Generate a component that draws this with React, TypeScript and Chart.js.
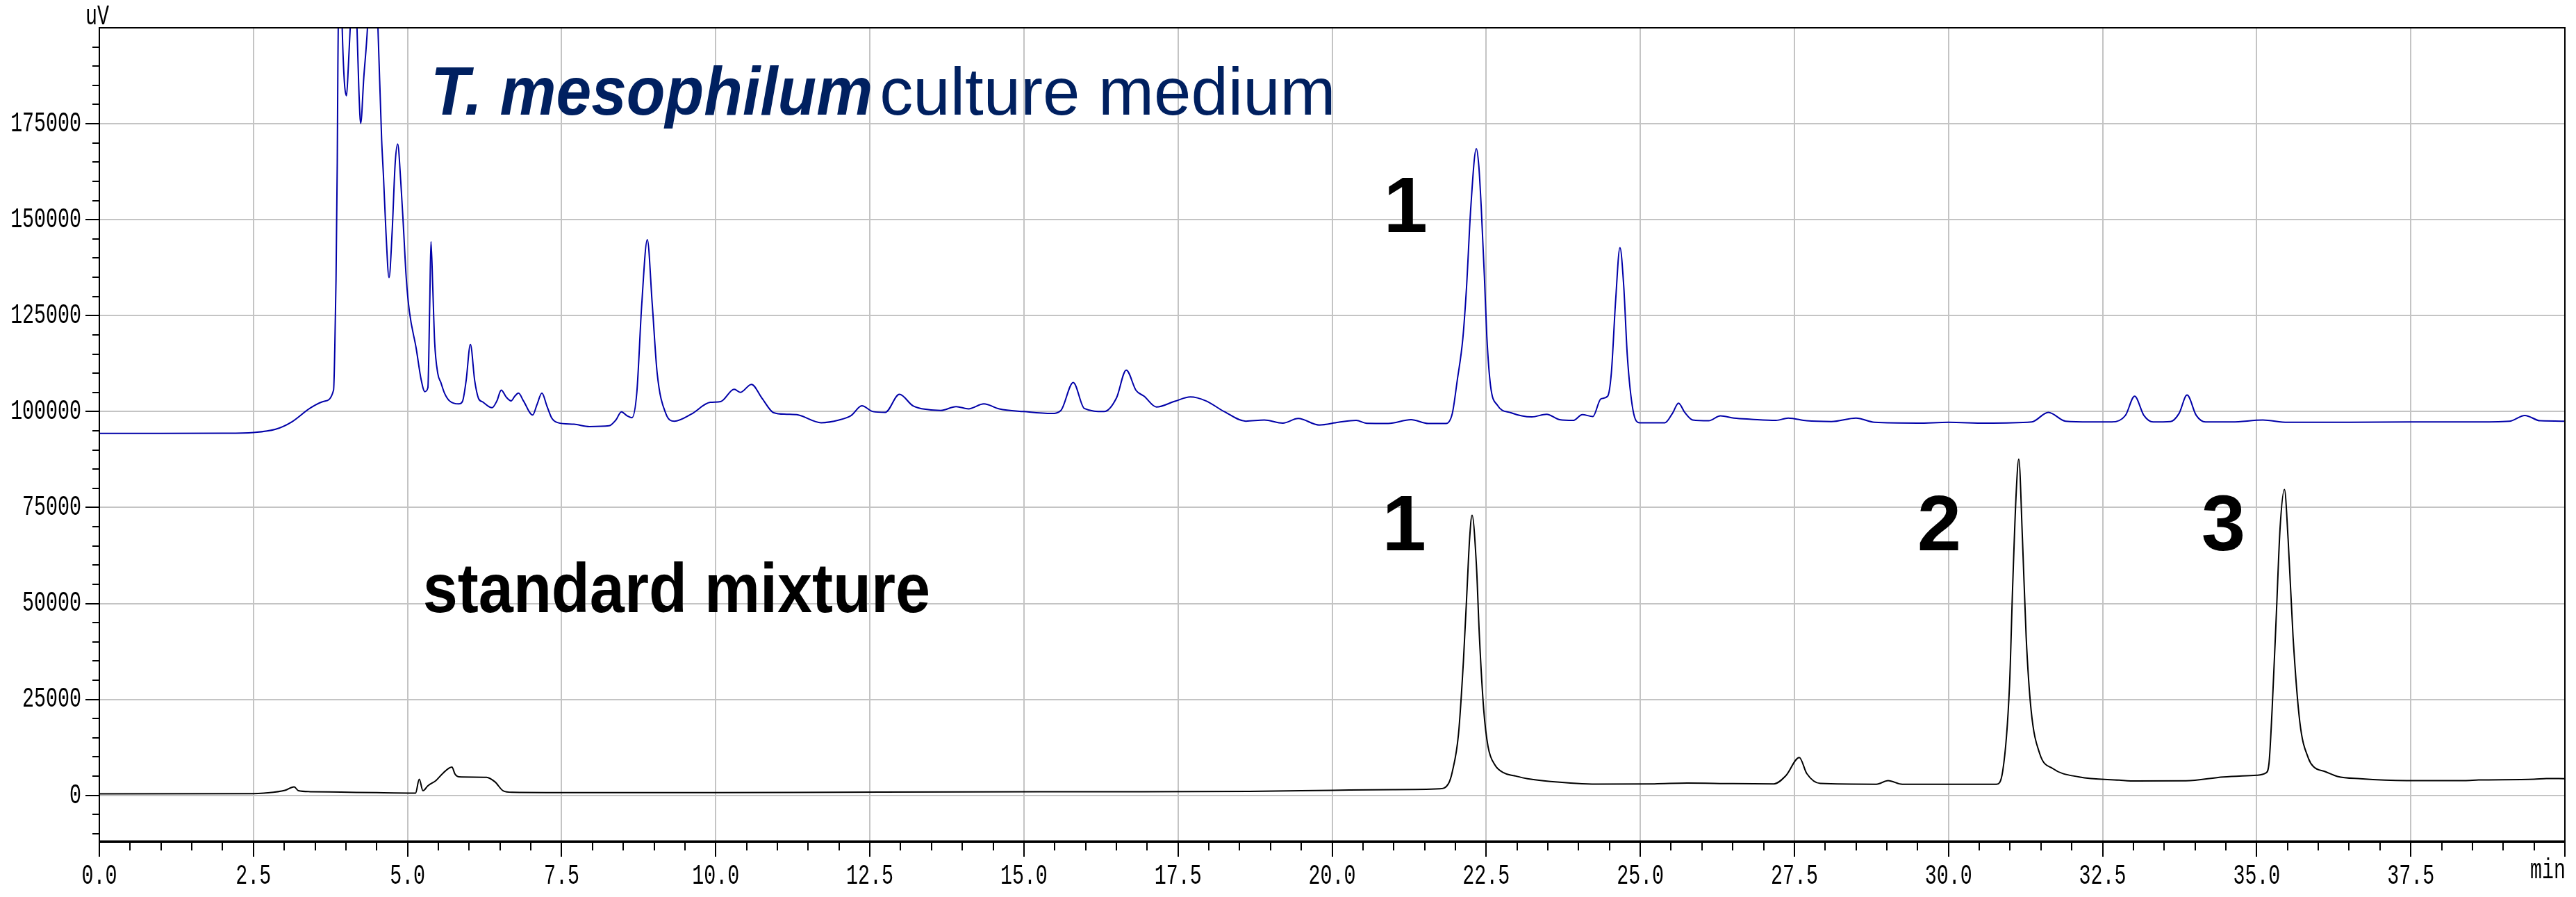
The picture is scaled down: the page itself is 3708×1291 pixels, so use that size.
import { useEffect, useRef } from 'react';
import { Chart, registerables } from 'chart.js';

Chart.register(...registerables);

const W = 3708;
const H = 1291;

// axis ranges (min / uV)
const xMin = 0;
const xMax = 40;
const yMin = -12000;
const yMax = 200000;
const yMinorStep = 5000;
const yMajorStep = 25000;

const xTickLabels = ['0.0', '2.5', '5.0', '7.5', '10.0', '12.5', '15.0', '17.5', '20.0', '22.5', '25.0', '27.5', '30.0', '32.5', '35.0', '37.5'];
const yTickLabels = ['0', '25000', '50000', '75000', '100000', '125000', '150000', '175000'];

// T. mesophilum culture medium (blue trace)
const blueTime = [
  0, 1.0, 2.0, 2.5, 2.86, 3.12, 3.42, 3.65, 3.8, 3.82, 3.84, 3.86, 3.87, 3.905, 3.94, 3.975, 4.01, 4.04, 4.07, 4.125,
  4.18, 4.21, 4.24, 4.29, 4.35, 4.435, 4.52, 4.58, 4.61, 4.65, 4.7, 4.75, 4.8, 4.84, 4.89, 4.93, 4.98, 5.03, 5.14, 5.22,
  5.28, 5.33, 5.36, 5.38, 5.41, 5.44, 5.49, 5.54, 5.6, 5.68, 5.83, 5.89, 5.95, 6.02, 6.09, 6.15, 6.22, 6.37, 6.45, 6.52,
  6.6, 6.68, 6.74, 6.8, 6.88, 7.03, 7.1, 7.18, 7.26, 7.34, 7.44, 7.7, 7.95, 8.27, 8.38, 8.47, 8.56, 8.64, 8.72, 8.8,
  8.89, 8.97, 9.05, 9.19, 9.33, 9.6, 9.91, 10.08, 10.3, 10.4, 10.58, 10.75, 10.94, 11.15, 11.34, 11.71, 12.0, 12.2, 12.37, 12.55,
  12.75, 12.98, 13.2, 13.45, 13.65, 13.9, 14.1, 14.35, 14.6, 15.0, 15.45, 15.6, 15.8, 15.98, 16.3, 16.5, 16.66, 16.82, 16.95, 17.15,
  17.45, 17.7, 17.95, 18.25, 18.6, 18.9, 19.2, 19.45, 19.79, 20.1, 20.39, 20.56, 20.91, 21.28, 21.56, 21.85, 21.95, 22.03, 22.12, 22.18,
  22.25, 22.34, 22.38, 22.42, 22.47, 22.51, 22.57, 22.68, 22.9, 23.24, 23.48, 23.69, 23.91, 24.06, 24.23, 24.36, 24.47, 24.53, 24.6, 24.67,
  24.73, 24.79, 24.88, 24.99, 25.4, 25.52, 25.62, 25.72, 25.85, 26.11, 26.3, 26.52, 26.8, 27.2, 27.4, 27.7, 28.1, 28.5, 28.8, 29.5,
  30.0, 30.6, 31.35, 31.62, 31.9, 32.3, 32.65, 32.87, 33.02, 33.17, 33.32, 33.6, 33.74, 33.87, 34.02, 34.17, 34.6, 35.1, 35.5, 36.5,
  37.5, 38.5, 39.1, 39.35, 39.6, 40.0,
];
const blueSignal = [
  94300, 94300, 94350, 94560, 95400, 97300, 100900, 102700, 105600, 116500, 134600, 164800, 190000, 228000, 200000, 186000, 182300, 190000, 200000, 222000,
  200000, 184000, 175100, 187000, 200000, 232000, 200000, 170800, 161200, 146700, 134900, 146700, 164800, 169700, 160000, 149100, 134600, 126100, 116500, 108400,
  105200, 106200, 128000, 144300, 132000, 118100, 110000, 107600, 104800, 102800, 102000, 102600, 108000, 117500, 108000, 103500, 102500, 101000, 102800, 105600,
  103800, 102800, 104000, 104800, 102800, 99100, 101800, 104800, 101500, 98300, 97100, 96700, 96100, 96300, 97800, 99950, 98900, 98400, 105000, 128000,
  144800, 128000, 110000, 99500, 97500, 99300, 102400, 102600, 105800, 105000, 107100, 103500, 99700, 99300, 99100, 97100, 97800, 99000, 101500, 100000,
  99800, 104500, 101500, 100500, 100300, 101300, 100700, 102000, 100700, 100000, 99500, 100300, 107600, 100800, 100000, 103500, 110800, 105500, 104000, 101200,
  102700, 103800, 102800, 100000, 97500, 97800, 97000, 98200, 96500, 97200, 97700, 96950, 96900, 97900, 96900, 96900, 99500, 108100, 118900, 132200,
  153200, 168500, 164000, 153000, 135400, 119600, 106800, 101700, 99700, 98600, 99300, 97900, 97700, 99200, 98700, 103300, 104000, 110000, 129000, 142700,
  133000, 114400, 100500, 97100, 97100, 99500, 102200, 99800, 97800, 97600, 98900, 98300, 98000, 97700, 98300, 97600, 97400, 98300, 97200, 97000,
  97200, 97000, 97300, 99800, 97500, 97300, 97300, 99000, 104000, 99000, 97300, 97400, 99500, 104300, 99000, 97300, 97300, 97800, 97200, 97200,
  97300, 97300, 97500, 99000, 97600, 97500,
];

// standard mixture (black trace)
const stdTime = [
  0, 2.5, 2.67, 3.01, 3.16, 3.23, 3.42, 3.92, 4.5, 5.13, 5.19, 5.25, 5.33, 5.46, 5.58, 5.72, 5.77, 5.83, 6.28, 6.42,
  6.55, 6.7, 8.0, 10.0, 12.0, 14.0, 16.0, 18.66, 20.0, 20.99, 21.74, 21.89, 21.95, 22.05, 22.13, 22.19, 22.23, 22.27, 22.34, 22.39,
  22.46, 22.53, 22.64, 22.79, 22.96, 23.17, 23.54, 24.29, 25.23, 25.76, 26.5, 27.17, 27.36, 27.58, 27.7, 27.92, 28.83, 29.02, 29.25, 30.78,
  30.88, 30.99, 31.04, 31.1, 31.14, 31.2, 31.26, 31.34, 31.48, 31.69, 32.12, 32.77, 33.04, 33.85, 34.46, 35.0, 35.15, 35.2, 35.25, 35.32,
  35.38, 35.45, 35.51, 35.59, 35.7, 35.84, 35.93, 36.11, 36.31, 36.68, 37.43, 38.37, 38.6, 39.5, 39.7, 40.0,
];
const stdSignal = [
  420, 450, 600, 1300, 2230, 1200, 960, 850, 700, 600, 4200, 1200, 2500, 3850, 5850, 7360, 5550, 4830, 4700, 3500,
  1200, 800, 700, 700, 800, 900, 950, 1030, 1320, 1500, 1700, 3130, 6150, 15900, 34900, 54000, 66700, 73000, 60300, 41300,
  22250, 12700, 7960, 5840, 5100, 4340, 3620, 2950, 3000, 3200, 3050, 3000, 5100, 9860, 5700, 3100, 2900, 3830, 2900, 2900,
  6370, 28600, 54000, 79400, 87600, 66700, 41300, 22250, 10850, 7000, 4800, 3980, 3740, 3800, 4790, 5250, 5850, 8400, 22250, 47600,
  69800, 79700, 66700, 41300, 19070, 9600, 7360, 6200, 4940, 4340, 3860, 3860, 4000, 4200, 4400, 4350,
];

const TICK_FAMILY = '"Liberation Mono", "DejaVu Sans Mono", monospace';
const TICK_SIZE = 41;
const TICK_SQUEEZE = 0.69;
const TEXT_FAMILY = '"Liberation Sans", Arial, sans-serif';

const isMultiple = (v: number, step: number) => Math.abs(v / step - Math.round(v / step)) < 1e-6;

// draw a scale's tick labels horizontally condensed (narrow instrument font look)
const squeezeLabels = (scale: any, sx: number) => {
  if (!scale || scale.__squeezed) return;
  scale.__squeezed = true;
  const orig = scale.drawLabels;
  scale.drawLabels = function (area: any) {
    const ctx = this.ctx;
    const origFill = ctx.fillText;
    ctx.fillText = function (t: string, x: number, y: number, mw?: number) {
      this.save();
      this.translate(x, y);
      this.scale(sx, 1);
      if (mw === undefined || mw === null) origFill.call(this, t, 0, 0);
      else origFill.call(this, t, 0, 0, mw / sx);
      this.restore();
    };
    try {
      orig.call(this, area);
    } finally {
      delete ctx.fillText;
    }
  };
};

export default function App() {
  const ref = useRef<HTMLCanvasElement | null>(null);

  useEffect(() => {
    const canvas = ref.current;
    if (!canvas) return;

    const annotations = {
      id: 'annotations',
      beforeDraw(chart: any) {
        squeezeLabels(chart.scales.x, TICK_SQUEEZE);
        squeezeLabels(chart.scales.y, TICK_SQUEEZE);
      },
      afterDraw(chart: any) {
        const { ctx, chartArea: ca, scales } = chart;
        const xs = scales.x;
        const ys = scales.y;
        const px = (t: number) => xs.getPixelForValue(t);
        const py = (v: number) => ys.getPixelForValue(v);
        const text = (s: string, x: number, y: number, font: string, color: string, align: CanvasTextAlign = 'left', sx = 1) => {
          ctx.save();
          ctx.font = font;
          ctx.fillStyle = color;
          ctx.textAlign = align;
          ctx.textBaseline = 'alphabetic';
          ctx.translate(x, y);
          ctx.scale(sx, 1);
          ctx.fillText(s, 0, 0);
          ctx.restore();
        };
        ctx.save();
        // frame
        ctx.strokeStyle = '#000';
        ctx.lineWidth = 2;
        ctx.strokeRect(ca.left, ca.top, ca.right - ca.left, ca.bottom - ca.top);
        ctx.lineWidth = 3;
        ctx.beginPath();
        ctx.moveTo(ca.left - 1, ca.bottom);
        ctx.lineTo(ca.right + 1, ca.bottom);
        ctx.stroke();
        ctx.restore();

        // axis units
        const unitFont = `${TICK_SIZE}px ${TICK_FAMILY}`;
        text('uV', ca.left - 3, ca.top - 5, unitFont, '#000', 'center', TICK_SQUEEZE);
        text('min', ca.right + 1, ca.bottom + 53, unitFont, '#000', 'right', TICK_SQUEEZE);

        // trace titles
        text('T. mesophilum', px(5.375), py(177300), `italic bold 98px ${TEXT_FAMILY}`, '#002060', 'left', 0.93);
        text('culture medium', px(12.66), py(177300), `96px ${TEXT_FAMILY}`, '#002060', 'left');
        text('standard mixture', px(5.25), py(47760), `bold 100px ${TEXT_FAMILY}`, '#000', 'left', 0.9);

        // peak numbers
        const numFont = `bold 114px ${TEXT_FAMILY}`;
        text('1', px(21.19), py(146800), numFont, '#000', 'center');
        text('1', px(21.17), py(63860), numFont, '#000', 'center');
        text('2', px(29.85), py(63860), numFont, '#000', 'center');
        text('3', px(34.46), py(63860), numFont, '#000', 'center');
      },
    };

    const chart = new Chart(canvas, {
      type: 'line',
      data: {
        datasets: [
          {
            label: 'T. mesophilum culture medium',
            data: blueTime.map((t, i) => ({ x: t, y: blueSignal[i] })),
            borderColor: '#0000a8',
            borderWidth: 2,
            pointRadius: 0,
            fill: false,
            cubicInterpolationMode: 'monotone',
          },
          {
            label: 'standard mixture',
            data: stdTime.map((t, i) => ({ x: t, y: stdSignal[i] })),
            borderColor: '#000000',
            borderWidth: 2,
            pointRadius: 0,
            fill: false,
            cubicInterpolationMode: 'monotone',
          },
        ],
      },
      options: {
        animation: false,
        responsive: false,
        devicePixelRatio: 1,
        layout: { padding: { left: 0, top: 40, right: 16, bottom: 0 } },
        plugins: {
          legend: { display: false },
          tooltip: { enabled: false },
          title: { display: false },
        },
        scales: {
          x: {
            type: 'linear',
            min: xMin,
            max: xMax,
            afterFit: (s: any) => {
              s.height = 80;
            },
            ticks: {
              stepSize: 0.5,
              maxTicksLimit: 1000,
              autoSkip: false,
              includeBounds: false,
              maxRotation: 0,
              minRotation: 0,
              padding: 4,
              color: '#000',
              font: { family: TICK_FAMILY, size: TICK_SIZE },
              callback: (v: any) => {
                const n = Number(v);
                if (!isMultiple(n, 2.5)) return '';
                const idx = Math.round(n / 2.5);
                return xTickLabels[idx] ?? '';
              },
            },
            grid: {
              color: (c: any) => (isMultiple(c.tick.value, 2.5) ? '#c4c4c4' : 'rgba(0,0,0,0)'),
              lineWidth: (c: any) => (isMultiple(c.tick.value, 2.5) ? 2 : 0),
              tickLength: 22,
              tickWidth: 2,
              tickColor: '#000',
              tickBorderDash: (c: any) => (isMultiple(c.tick.value, 2.5) ? [] : [11, 40]),
            } as any,
            border: { display: true, color: '#000', width: 3 },
          },
          y: {
            type: 'linear',
            min: yMin,
            max: yMax,
            afterFit: (s: any) => {
              s.width = 143;
            },
            afterBuildTicks: (s: any) => {
              const ticks: { value: number }[] = [];
              const first = Math.ceil(yMin / yMinorStep) * yMinorStep;
              for (let v = first; v <= yMax; v += yMinorStep) ticks.push({ value: v });
              s.ticks = ticks;
            },
            ticks: {
              autoSkip: false,
              padding: 6,
              color: '#000',
              font: { family: TICK_FAMILY, size: TICK_SIZE },
              callback: (v: any) => {
                const n = Number(v);
                if (!isMultiple(n, yMajorStep) || n < 0) return '';
                const idx = Math.round(n / yMajorStep);
                return yTickLabels[idx] ?? '';
              },
            },
            grid: {
              color: (c: any) => (isMultiple(c.tick.value, yMajorStep) && c.tick.value < yMax ? '#c4c4c4' : 'rgba(0,0,0,0)'),
              lineWidth: (c: any) => (isMultiple(c.tick.value, yMajorStep) && c.tick.value < yMax ? 2 : 0),
              tickLength: 20,
              tickWidth: 2,
              tickColor: (c: any) => (c.tick.value >= yMax ? 'rgba(0,0,0,0)' : '#000'),
              tickBorderDash: (c: any) => (isMultiple(c.tick.value, yMajorStep) ? [] : [10, 10]),
              tickBorderDashOffset: (c: any) => (isMultiple(c.tick.value, yMajorStep) ? 0 : 10),
            } as any,
            border: { display: true, color: '#000', width: 2 },
          },
        },
      } as any,
      plugins: [annotations],
    });

    return () => {
      chart.destroy();
    };
  }, []);

  return (
    <div style={{ position: 'fixed', left: 0, top: 0, width: W, height: H, background: '#fff' }}>
      <canvas ref={ref} width={W} height={H} style={{ display: 'block', width: W, height: H }} />
    </div>
  );
}
